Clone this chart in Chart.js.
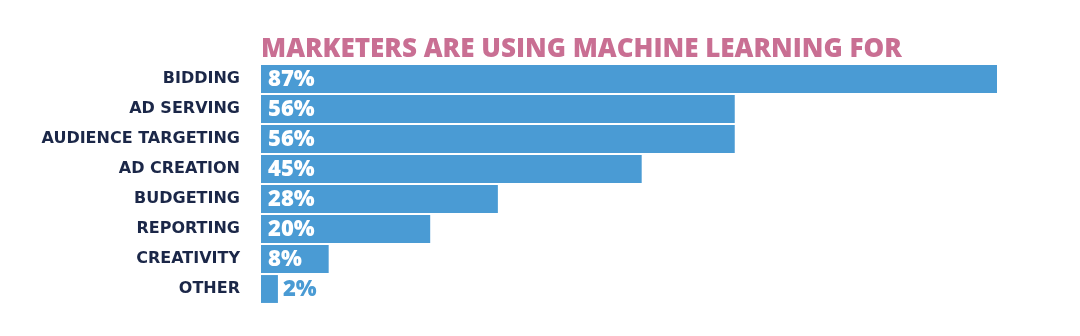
<!DOCTYPE html>
<html>
<head>
<meta charset="utf-8">
<script src="https://cdn.jsdelivr.net/npm/chart.js@4"></script>
<style>
  html, body { margin: 0; padding: 0; background: #fff; }
  #wrap { width: 1080px; height: 336px; }
</style>
</head>
<body>
<div id="wrap"><canvas id="mlChart" width="1080" height="336"></canvas></div>
<script>
// chart data
const categories = ["BIDDING", "AD SERVING", "AUDIENCE TARGETING", "AD CREATION", "BUDGETING", "REPORTING", "CREATIVITY", "OTHER"];
const shares = [87, 56, 56, 45, 28, 20, 8, 2];

const barBlue = "#4a9bd4";
const heavyFont = "'Open Sans'";

// draws the percentage labels at the start of each bar
const valueLabels = {
  id: "valueLabels",
  afterDatasetsDraw(chart) {
    const ctx = chart.ctx;
    const meta = chart.getDatasetMeta(0);
    ctx.save();
    ctx.font = "800 22px " + heavyFont;
    ctx.textBaseline = "middle";
    meta.data.forEach((bar, i) => {
      const text = shares[i] + "%";
      const w = ctx.measureText(text).width;
      const inside = bar.x - bar.base > w + 12;
      ctx.fillStyle = inside ? "#ffffff" : barBlue;
      const x = inside ? bar.base + 7 : bar.x + 5;
      ctx.fillText(text, x, bar.y + 1);
    });
    ctx.restore();
  },
};

const ctx = document.getElementById("mlChart").getContext("2d");
new Chart(ctx, {
  type: "bar",
  data: {
    labels: categories,
    datasets: [
      {
        data: shares,
        backgroundColor: barBlue,
        borderWidth: 0,
        barPercentage: 0.93,
        categoryPercentage: 1,
      },
    ],
  },
  options: {
    indexAxis: "y",
    responsive: false,
    animation: false,
    layout: { padding: { top: 37, right: 83, bottom: 32, left: 0 } },
    scales: {
      x: {
        min: 0,
        max: 87,
        display: false,
      },
      y: {
        afterFit(scale) {
          scale.width = 261;
        },
        grid: { display: false, drawTicks: false },
        border: { display: false },
        ticks: {
          color: "#1b2748",
          font: { family: "'DejaVu Sans'", weight: "bold", size: 16 },
          padding: 21,
        },
      },
    },
    plugins: {
      legend: { display: false },
      tooltip: { enabled: false },
      title: {
        display: true,
        text: "MARKETERS ARE USING MACHINE LEARNING FOR",
        align: "start",
        fullSize: false,
        color: "#c96f93",
        font: { family: heavyFont, weight: "800", size: 26, lineHeight: 1 },
        padding: { top: 0, bottom: 1 },
      },
    },
  },
  plugins: [valueLabels],
});
</script>
</body>
</html>
